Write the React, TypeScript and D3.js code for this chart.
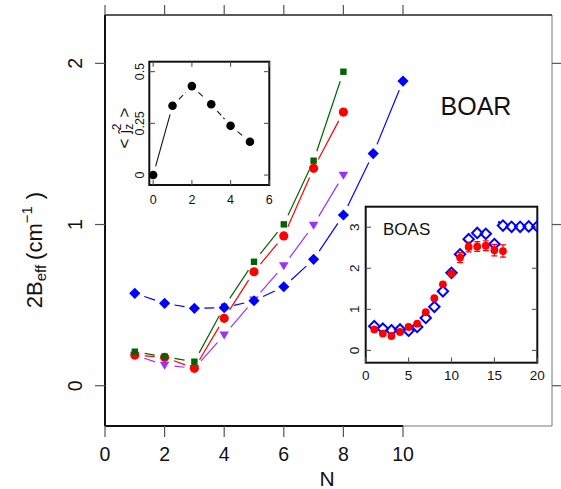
import React from "react";
import * as d3 from "d3";

// ---------- data ----------
const mainN = [1, 2, 3, 4, 5, 6, 7, 8, 9, 10];
const blueMain = [0.573, 0.511, 0.48, 0.484, 0.527, 0.614, 0.784, 1.059, 1.44, 1.89];
const greenMain = [0.211, 0.18, 0.149, 0.49, 0.769, 1.001, 1.396, 1.948];
const redMain = [0.19, 0.176, 0.108, 0.418, 0.707, 0.929, 1.349, 1.698];
const purpleMain = [0.19, 0.128, 0.108, 0.315, 0.532, 0.745, 0.997, 1.307];
const mainXTicks = [0, 2, 4, 6, 8, 10];
const mainYTicks = [0, 1, 2];

const jzN = [0, 1, 2, 3, 4, 5];
const jzVals = [0, 0.335, 0.43, 0.342, 0.238, 0.161];
const jzXTicks = [0, 2, 4, 6];
const jzYTicks = [0, 0.25, 0.5];
const jzYTickLabels = ["0", "0.25", "0.5"];

const boasBlueN = [1, 2, 3, 4, 5, 6, 7, 8, 9, 10, 11, 12, 13, 14, 15, 16, 17, 18, 19, 20];
const boasBlue = [0.59, 0.53, 0.49, 0.51, 0.48, 0.57, 0.79, 1.06, 1.44, 1.89, 2.34, 2.71, 2.86, 2.84, 2.59, 3.04, 3.01, 3.01, 3.02, 3.02];
const boasRedN = [1, 2, 3, 4, 5, 6, 7, 8, 9, 10, 11, 12, 13, 14, 15, 16];
const boasRed = [0.51, 0.41, 0.35, 0.45, 0.57, 0.65, 0.93, 1.27, 1.61, 1.87, 2.26, 2.52, 2.53, 2.55, 2.44, 2.42];
const boasRedErr = [0, 0, 0, 0, 0, 0, 0, 0, 0, 0.05, 0.12, 0.12, 0.12, 0.12, 0.14, 0.15];
const boasDot = [[15.55, 3.12]];
const boasXTicks = [0, 5, 10, 15, 20];
const boasYTicks = [0, 1, 2, 3];

const FONT = "'Liberation Sans', Arial, Helvetica, sans-serif";

type P = [number, number];

function gapSegments(pts: P[], gap: number) {
  const segs: { x1: number; y1: number; x2: number; y2: number }[] = [];
  for (let i = 0; i < pts.length - 1; i++) {
    const [ax, ay] = pts[i];
    const [bx, by] = pts[i + 1];
    const dx = bx - ax, dy = by - ay;
    const L = Math.hypot(dx, dy);
    if (L <= 2 * gap + 1) continue;
    const ux = dx / L, uy = dy / L;
    segs.push({ x1: ax + ux * gap, y1: ay + uy * gap, x2: bx - ux * gap, y2: by - uy * gap });
  }
  return segs;
}

export default function App() {
  // main scales
  const x = d3.scaleLinear().domain([0, 15]).range([105, 552]);
  const y = d3.scaleLinear().domain([-0.25, 2.3]).range([426, 15]);
  // inset 1
  const x1 = d3.scaleLinear().domain([-0.2, 6]).range([149.3, 269.3]);
  const y1 = d3.scaleLinear().domain([-0.048, 0.548]).range([185, 61.7]);
  // inset 2
  const x2 = d3.scaleLinear().domain([0, 20]).range([365.7, 537.3]);
  const y2 = d3.scaleLinear().domain([-0.3, 3.5]).range([362.7, 206.7]);

  const series = [
    { vals: blueMain, color: "#0000ff", shape: "diamond" },
    { vals: greenMain, color: "#006400", shape: "square" },
    { vals: redMain, color: "#ff0000", shape: "circle" },
    { vals: purpleMain, color: "#9b30ff", shape: "triangle" },
  ];

  const marker = (shape: string, cx: number, cy: number, color: string, key: string) => {
    if (shape === "diamond") {
      const s = 5.6;
      return <path key={key} d={`M${cx},${cy - s}L${cx + s},${cy}L${cx},${cy + s}L${cx - s},${cy}Z`} fill={color} />;
    }
    if (shape === "square") {
      return <rect key={key} x={cx - 3.2} y={cy - 3.2} width={6.4} height={6.4} fill={color} />;
    }
    if (shape === "circle") {
      return <circle key={key} cx={cx} cy={cy} r={4.6} fill={color} />;
    }
    // downward triangle
    const w = 4.8, h = 8;
    return <path key={key} d={`M${cx - w},${cy - h * 0.42}L${cx + w},${cy - h * 0.42}L${cx},${cy + h * 0.58}Z`} fill={color} />;
  };

  const tickGray = "#555";

  return (
    <svg width={561} height={489} style={{ position: "absolute", left: 0, top: 0, background: "#fff" }} fontFamily={FONT}>
      <rect x={0} y={0} width={561} height={489} fill="#fff" />

      {/* main box */}
      <line x1={x(10)} x2={552} y1={426} y2={426} stroke="#777" strokeWidth={1} />
      <line x1={552} x2={552} y1={15} y2={426} stroke="#777" strokeWidth={1} />
      <line x1={105} x2={552} y1={15} y2={15} stroke="#222" strokeWidth={1.4} />
      <line x1={105} x2={x(10)} y1={426} y2={426} stroke="#111" strokeWidth={2} />
      <line x1={105} x2={105} y1={15} y2={426} stroke="#111" strokeWidth={2} />

      {/* main ticks */}
      {mainXTicks.map((t) => (
        <g key={"mx" + t}>
          <line x1={x(t)} x2={x(t)} y1={426} y2={437} stroke={tickGray} strokeWidth={1.2} />
          <line x1={x(t)} x2={x(t)} y1={15} y2={5} stroke={tickGray} strokeWidth={1.2} />
          <text x={x(t)} y={461} fontSize={19.5} textAnchor="middle" fill="#111">{t}</text>
        </g>
      ))}
      {mainYTicks.map((t) => (
        <g key={"my" + t}>
          <line x1={105} x2={95} y1={y(t)} y2={y(t)} stroke={tickGray} strokeWidth={1.2} />
          <line x1={552} x2={561} y1={y(t)} y2={y(t)} stroke={tickGray} strokeWidth={1.2} />
          <text transform={`translate(81.5,${y(t)}) rotate(-90)`} fontSize={19.5} textAnchor="middle" fill="#111">{t}</text>
        </g>
      ))}
      <text x={327} y={486} fontSize={21} textAnchor="middle" fill="#111">N</text>
      <text transform="translate(41.5,250) rotate(-90)" fontSize={22} textAnchor="middle" fill="#111">
        2B<tspan fontSize={15} dy={4}>eff</tspan>
        <tspan dy={-4} dx={5}>(cm</tspan>
        <tspan fontSize={15} dy={-10}>−1</tspan>
        <tspan dy={10} dx={7}>)</tspan>
      </text>
      <text x={476} y={115} fontSize={25} textAnchor="middle" fill="#111">BOAR</text>

      {/* main series */}
      {series.map((s, si) => {
        const pts: P[] = s.vals.map((v, i) => [x(mainN[i]), y(v)]);
        return (
          <g key={"s" + si}>
            {gapSegments(pts, 10).map((g, i) => (
              <line key={i} {...g} stroke={s.color} strokeWidth={1.2} />
            ))}
          </g>
        );
      })}
      {series.slice().reverse().map((s, si) => (
        <g key={"m" + si}>
          {s.vals.map((v, i) => marker(s.shape, x(mainN[i]), y(v), s.color, `${si}-${i}`))}
        </g>
      ))}

      {/* inset 1 */}
      <rect x={149.3} y={61.7} width={120} height={123.3} fill="#fff" stroke="#111" strokeWidth={2} />
      {jzXTicks.map((t) => (
        <g key={"jx" + t}>
          <line x1={x1(t)} x2={x1(t)} y1={185} y2={180} stroke={tickGray} strokeWidth={1.1} />
          <line x1={x1(t)} x2={x1(t)} y1={61.7} y2={66.7} stroke={tickGray} strokeWidth={1.1} />
          <text x={x1(t)} y={203.5} fontSize={12.5} textAnchor="middle" fill="#111">{t}</text>
        </g>
      ))}
      {jzYTicks.map((t, i) => (
        <g key={"jy" + t}>
          <line x1={149.3} x2={155} y1={y1(t)} y2={y1(t)} stroke={tickGray} strokeWidth={1.1} />
          <line x1={269.3} x2={264} y1={y1(t)} y2={y1(t)} stroke={tickGray} strokeWidth={1.1} />
          <text transform={`translate(144.3,${y1(t)}) rotate(-90)`} fontSize={12.5} textAnchor="middle" fill="#111">{jzYTickLabels[i]}</text>
        </g>
      ))}
      <text transform="translate(129.5,128) rotate(-90)" fontSize={17} textAnchor="middle" fill="#111">
        {"<"}<tspan dx={5}>ĵ</tspan><tspan fontSize={12} dy={3}>z</tspan>
        <tspan fontSize={12} dx={-6.5} dy={-12}>2</tspan>
        <tspan dy={9} dx={6}>{">"}</tspan>
      </text>
      {(() => {
        const pts: P[] = jzVals.map((v, i) => [x1(jzN[i]), y1(v)]);
        const segs = gapSegments(pts, 9);
        return segs.map((g, i) => (
          <line key={"jl" + i} {...g} stroke="#111" strokeWidth={1.1} strokeDasharray={i === 0 ? undefined : "6 3"} />
        ));
      })()}
      {jzVals.map((v, i) => (
        <circle key={"jp" + i} cx={x1(jzN[i])} cy={y1(v)} r={4.3} fill="#000" />
      ))}

      {/* inset 2 */}
      <rect x={365.7} y={206.7} width={171.6} height={156} fill="#fff" stroke="#111" strokeWidth={2} />
      {boasXTicks.map((t) => (
        <g key={"bx" + t}>
          <line x1={x2(t)} x2={x2(t)} y1={362.7} y2={357.5} stroke={tickGray} strokeWidth={1.1} />
          <text x={x2(t)} y={380} fontSize={13.5} textAnchor="middle" fill="#111">{t}</text>
        </g>
      ))}
      {boasYTicks.map((t) => (
        <g key={"by" + t}>
          <line x1={365.7} x2={371} y1={y2(t)} y2={y2(t)} stroke={tickGray} strokeWidth={1.1} />
          <line x1={537.3} x2={532} y1={y2(t)} y2={y2(t)} stroke={tickGray} strokeWidth={1.1} />
          <text transform={`translate(358.5,${y2(t)}) rotate(-90)`} fontSize={13.5} textAnchor="middle" fill="#111">{t}</text>
        </g>
      ))}
      <text x={383} y={235} fontSize={17} fill="#111">BOAS</text>
      <defs>
        <clipPath id="clip2">
          <rect x={365.7} y={206.7} width={171.6} height={156} />
        </clipPath>
      </defs>
      <g clipPath="url(#clip2)">
        {boasBlue.map((v, i) => {
          const cx = x2(boasBlueN[i]), cy = y2(v), s = 5.2;
          return (
            <path key={"bb" + i} d={`M${cx},${cy - s}L${cx + s},${cy}L${cx},${cy + s}L${cx - s},${cy}Z`} fill="none" stroke="#0000ff" strokeWidth={2} />
          );
        })}
        {boasDot.map((d, i) => (
          <circle key={"bd" + i} cx={x2(d[0])} cy={y2(d[1])} r={1.2} fill="#0000ff" />
        ))}
        {boasRed.map((v, i) => {
          const cx = x2(boasRedN[i]), cy = y2(v), e = boasRedErr[i];
          return (
            <g key={"br" + i}>
              {e > 0.06 && (
                <g stroke="#ff0000" strokeWidth={1.2}>
                  <line x1={cx} x2={cx} y1={y2(v - e)} y2={y2(v + e)} />
                  <line x1={cx - 3} x2={cx + 3} y1={y2(v - e)} y2={y2(v - e)} />
                  <line x1={cx - 3} x2={cx + 3} y1={y2(v + e)} y2={y2(v + e)} />
                </g>
              )}
              <circle cx={cx} cy={cy} r={3.9} fill="#ff0000" />
            </g>
          );
        })}
      </g>
    </svg>
  );
}
